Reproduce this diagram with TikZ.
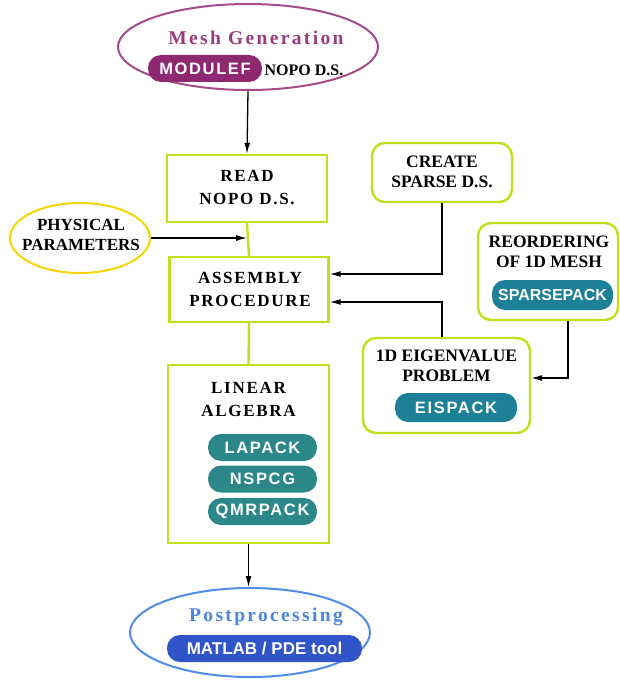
\documentclass[tikz,border=0pt]{standalone}
\usepackage{fontspec}
\setmainfont{Liberation Serif}
\setsansfont{Liberation Sans}
\newfontfamily\spacedserif[LetterSpace=10]{Liberation Serif}
\newfontfamily\widespaced[LetterSpace=12]{Liberation Serif}
\newfontfamily\pillfont[LetterSpace=10]{Liberation Sans}
\usetikzlibrary{arrows.meta,calc,shapes.geometric}
\definecolor{lime}{RGB}{196,222,30}
\definecolor{yel}{RGB}{245,212,0}
\definecolor{purp}{RGB}{142,40,112}
\definecolor{purpline}{RGB}{165,75,140}
\definecolor{teal1}{RGB}{44,136,136}
\definecolor{teal2}{RGB}{28,128,150}
\definecolor{blueline}{RGB}{80,140,232}
\definecolor{bluetext}{RGB}{74,134,224}
\definecolor{bluepill}{RGB}{47,85,200}
\tikzset{
  sqbox/.style={draw=lime, line width=2.4pt, fill=white, inner sep=0pt},
  rbox/.style={draw=lime, line width=2.4pt, fill=white, rounded corners=13pt, inner sep=0pt},
  lbl/.style={font=\spacedserif\bfseries\fontsize{17}{23}\selectfont, align=center, inner sep=0pt},
  rlbl/.style={font=\bfseries\fontsize{17.5}{20}\selectfont, align=center, inner sep=0pt},
  pill/.style={rounded corners=13pt, inner sep=0pt, text=white, font=\pillfont\bfseries\fontsize{16.5}{16.5}\selectfont},
  conn/.style={line width=1.3pt, -{Latex[length=11pt,width=6pt]}},
  link/.style={draw=lime, line width=2.4pt},
  oval/.style={ellipse, inner sep=0pt, line width=2pt}
}
\begin{document}
\begin{tikzpicture}[x=1pt,y=-1pt]
\useasboundingbox (0,0) rectangle (619,687);
% mesh generation
\node[oval, draw=purpline, minimum width=260pt, minimum height=86pt] (mesh) at (248,47) {};
\node[font=\widespaced\bfseries\fontsize{19.5}{19.5}\selectfont, text=purp!90!white, inner sep=0pt] (meshtxt) at (256,38) {Mesh Generation};
\node[pill, fill=purp, minimum width=114pt, minimum height=27pt] (modulef) at (205,68.5) {MODULEF};
\node[font=\bfseries\fontsize{16}{16}\selectfont, inner sep=0pt] (nopo) at (304,70) {NOPO D.S.};
% read
\node[sqbox, minimum width=160pt, minimum height=67pt] (read) at (247,188.5) {};
\node[lbl] (readtxt) at (247,187.5) {READ\\NOPO D.S.};
% physical parameters
\node[oval, draw=yel, minimum width=140pt, minimum height=70pt] (phys) at (80,238) {};
\node[rlbl, font=\bfseries\fontsize{17}{20.5}\selectfont] (phystxt) at (81,235) {PHYSICAL\\PARAMETERS};
% assembly
\node[sqbox, minimum width=159pt, minimum height=65pt] (asm) at (249,289.5) {};
\node[lbl] (asmtxt) at (250,289) {ASSEMBLY\\PROCEDURE};
% linear algebra
\node[sqbox, minimum width=161pt, minimum height=178pt] (lin) at (248.5,454) {};
\node[lbl] (lintxt) at (248.5,399) {LINEAR\\ALGEBRA};
\node[pill, fill=teal1, minimum width=109pt, minimum height=27pt] (lapack) at (262.5,447.5) {LAPACK};
\node[pill, fill=teal1, minimum width=109pt, minimum height=27pt] (nspcg) at (262.5,479) {NSPCG};
\node[pill, fill=teal1, minimum width=109pt, minimum height=27pt] (qmr) at (262.5,511.5) {QMRPACK};
% postprocessing
\node[oval, draw=blueline, minimum width=240pt, minimum height=89pt] (post) at (250,632.5) {};
\node[font=\widespaced\bfseries\fontsize{19.5}{19.5}\selectfont, text=bluetext, inner sep=0pt] (posttxt) at (266,617) {Postprocessing};
\node[pill, fill=bluepill, minimum width=195pt, minimum height=27pt, font=\sffamily\bfseries\fontsize{17}{17}\selectfont] (matlab) at (264.5,648.5) {MATLAB / PDE tool};
% create sparse
\node[rbox, minimum width=140pt, minimum height=59pt] (create) at (442,172.5) {};
\node[rlbl] (createtxt) at (442,172) {CREATE\\SPARSE D.S.};
% reordering
\node[rbox, minimum width=140pt, minimum height=97pt] (reord) at (548,271.5) {};
\node[rlbl] (reordtxt) at (549,252) {REORDERING\\OF 1D MESH};
\node[pill, fill=teal2, minimum width=121pt, minimum height=30pt, font=\sffamily\bfseries\fontsize{16}{16}\selectfont] (sparsepack) at (552.5,295) {SPARSEPACK};
% eigenvalue
\node[rbox, minimum width=167pt, minimum height=95pt] (eig) at (446.5,385.5) {};
\node[rlbl] (eigtxt) at (446.5,366) {1D EIGENVALUE\\PROBLEM};
\node[pill, fill=teal2, minimum width=122pt, minimum height=29pt] (eispack) at (456,407.5) {EISPACK};
% connectors
\draw[link] (read.south) -- (asm.north);
\draw[link] (asm.south) -- (lin.north);
\draw[conn] (mesh.south) -- (read.north);
\draw[conn] (phys.east) -- (phys.east -| read.south);
\draw[conn] (lin.south) -- (lin.south |- post.north);
\draw[conn] (create.south) |- ($(asm.east)+(0,-15.5)$);
\draw[conn] ($(eig.north)+(-4.5,0)$) |- ($(asm.east)+(0,12.5)$);
\draw[conn] ($(reord.south)+(20,0)$) |- ($(eig.east)+(0,-7.5)$);
\end{tikzpicture}
\end{document}
